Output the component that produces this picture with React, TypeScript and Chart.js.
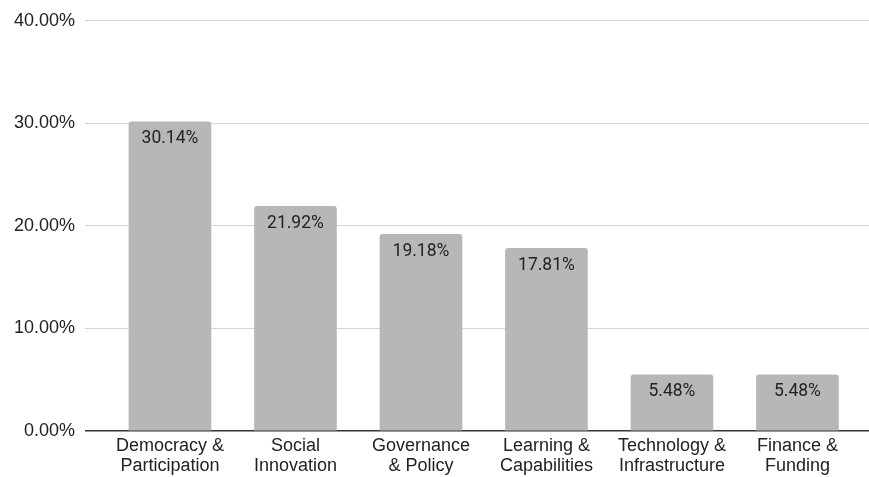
import React, { useEffect, useRef } from "react";
import { Chart, registerables } from "chart.js";

Chart.register(...registerables);

const categories: string[][] = [
  ["Democracy &", "Participation"],
  ["Social", "Innovation"],
  ["Governance", "& Policy"],
  ["Learning &", "Capabilities"],
  ["Technology &", "Infrastructure"],
  ["Finance &", "Funding"],
];
const shares: number[] = [30.14, 21.92, 19.18, 17.81, 5.48, 5.48];
const yTicks: number[] = [0, 10, 20, 30, 40];

const W = 869;
const H = 477;

const valueLabels = {
  id: "valueLabels",
  afterDatasetsDraw(chart: any) {
    const ctx = chart.ctx;
    const meta = chart.getDatasetMeta(0);
    ctx.save();
    ctx.font = "17.5px Roboto";
    ctx.fillStyle = "#222";
    ctx.textAlign = "center";
    ctx.textBaseline = "middle";
    meta.data.forEach((el: any, i: number) => {
      ctx.fillText(shares[i].toFixed(2) + "%", el.x, el.y + 17);
    });
    ctx.restore();
  },
};

export default function App() {
  const ref = useRef<HTMLCanvasElement>(null);
  useEffect(() => {
    document.body.style.margin = "0";
    const chart = new Chart(ref.current!, {
      type: "bar",
      data: {
        datasets: [
          {
            data: shares.map((v, i) => ({ x: i, y: v })),
            backgroundColor: "#b7b7b7",
            barThickness: 82,
            borderRadius: 3,
            borderSkipped: "start",
          },
        ],
      },
      options: {
        animation: false,
        responsive: false,
        maintainAspectRatio: false,
        layout: { padding: { top: 20, right: 0, left: 0, bottom: 0 } },
        plugins: { legend: { display: false }, tooltip: { enabled: false } },
        scales: {
          x: {
            type: "linear",
            offset: false,
            min: -0.677,
            max: 5.57,
            grid: { display: false, offset: false },
            border: { display: false },
            afterBuildTicks: (scale: any) => {
              scale.ticks = categories.map((_, i) => ({ value: i }));
            },
            afterFit: (scale: any) => {
              scale.height = 46;
            },
            ticks: {
              autoSkip: false,
              maxRotation: 0,
              padding: -3,
              color: "#222",
              font: { family: "Liberation Sans", size: 18, lineHeight: 1.11 },
              callback: (v: any) => categories[Math.round(Number(v))],
            },
          },
          y: {
            min: 0,
            max: 40,
            afterBuildTicks: (scale: any) => {
              scale.ticks = yTicks.map((v) => ({ value: v }));
            },
            afterFit: (scale: any) => {
              scale.width = 85;
            },
            border: { display: false },
            grid: {
              drawTicks: false,
              color: (c: any) => (c.tick && c.tick.value === 0 ? "#333" : "#d4d4d4"),
              lineWidth: (c: any) => (c.tick && c.tick.value === 0 ? 1.5 : 1),
            },
            ticks: {
              padding: 10,
              color: "#222",
              font: { family: "Liberation Sans", size: 18 },
              callback: (v: any) => Number(v).toFixed(2) + "%",
            },
          },
        },
      },
      plugins: [valueLabels],
    } as any);
    return () => chart.destroy();
  }, []);
  return (
    <div style={{ width: W, height: H }}>
      <canvas ref={ref} width={W} height={H} style={{ width: W, height: H }} />
    </div>
  );
}
